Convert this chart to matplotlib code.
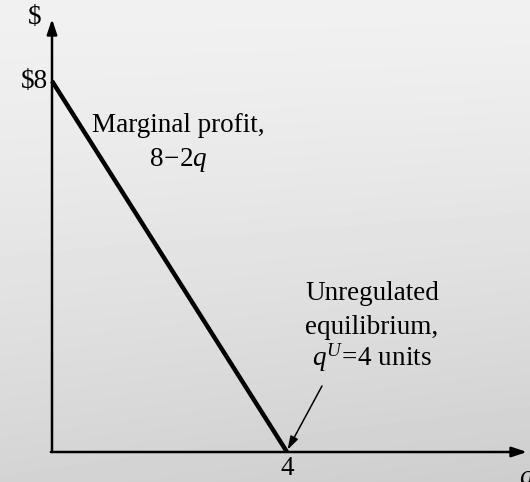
import numpy as np
import matplotlib
matplotlib.use("Agg")
import matplotlib.pyplot as plt

# Data
q_vals = [0, 4]
mp_vals = [8, 0]          # marginal profit 8 - 2q
x_tick = 4
y_tick = 8
y_tick_label = "$8"
x_tick_label = "4"
label_mp = ["Marginal profit,", r"$8\!-\!2q$"]
label_eq = ["Unregulated", "equilibrium,", r"$q^{U}\!=\!4$ units"]

plt.rcParams['font.family'] = ['Liberation Serif', 'DejaVu Serif']
plt.rcParams['mathtext.fontset'] = 'custom'
plt.rcParams['mathtext.rm'] = 'Liberation Serif'
plt.rcParams['mathtext.it'] = 'Liberation Serif:italic'

W, H = 530, 482
fig = plt.figure(figsize=(W / 100, H / 100), dpi=100)

# background gradient: light at top, darker towards the bottom (slightly more to the right)
bg = fig.add_axes([0, 0, 1, 1])
yy, xx = np.mgrid[0:H, 0:W]
t = yy / H
val = 0.945 - 0.115 * t ** 1.3 - 0.025 * t * (xx / W)
bg.imshow(val, cmap='gray', vmin=0, vmax=1, aspect='auto', extent=[0, 1, 0, 1])
bg.axis('off')

ax = fig.add_axes([0, 0, 1, 1])
ax.patch.set_alpha(0)
x0px, y0px = 52, 452
sx = (287 - 52) / 4.0
sy = (452 - 81) / 8.0
ax.set_xlim(-x0px / sx, (W - x0px) / sx)
ax.set_ylim(-(H - y0px) / sy, y0px / sy)
ax.axis('off')

# axes arrows
ax.annotate('', xy=(0, (y0px - 19) / sy), xytext=(0, 0),
            arrowprops=dict(arrowstyle='-|>,head_length=0.9,head_width=0.3', lw=1.8, color='black',
                            shrinkA=0, shrinkB=0))
ax.annotate('', xy=((527 - x0px) / sx, 0), xytext=(-0.02, 0),
            arrowprops=dict(arrowstyle='-|>,head_length=0.9,head_width=0.3', lw=1.8, color='black',
                            shrinkA=0, shrinkB=0))

# marginal profit line
ax.plot(q_vals, mp_vals, color='black', lw=3.2, solid_capstyle='butt')

fs = 19.5
ax.text(-0.07, y_tick, y_tick_label, ha='right', va='center', fontsize=fs)
ax.text(x_tick, -0.35, x_tick_label, ha='center', va='center', fontsize=fs)
ax.text((35 - x0px) / sx, (y0px - 18) / sy, "$", ha='center', va='center', fontsize=fs)
ax.text((526 - x0px) / sx, -0.55, "q", ha='center', va='center', fontsize=fs, style='italic')

ax.text((178 - x0px) / sx, (y0px - 125) / sy, label_mp[0], ha='center', va='center', fontsize=fs)
ax.text((178 - x0px) / sx, (y0px - 160) / sy, label_mp[1], ha='center', va='center', fontsize=fs)

ax.text((372 - x0px) / sx, (y0px - 294) / sy, label_eq[0], ha='center', va='center', fontsize=fs)
ax.text((372 - x0px) / sx, (y0px - 327) / sy, label_eq[1], ha='center', va='center', fontsize=fs)
ax.text((372 - x0px) / sx, (y0px - 358) / sy, label_eq[2], ha='center', va='center', fontsize=fs)

ax.annotate('', xy=(x_tick + 0.01, 0.05), xytext=((322 - x0px) / sx, (y0px - 386) / sy),
            arrowprops=dict(arrowstyle='-|>,head_length=0.8,head_width=0.25', lw=1.1, color='black',
                            shrinkA=0, shrinkB=0))

fig.savefig('out.png', dpi=100)
